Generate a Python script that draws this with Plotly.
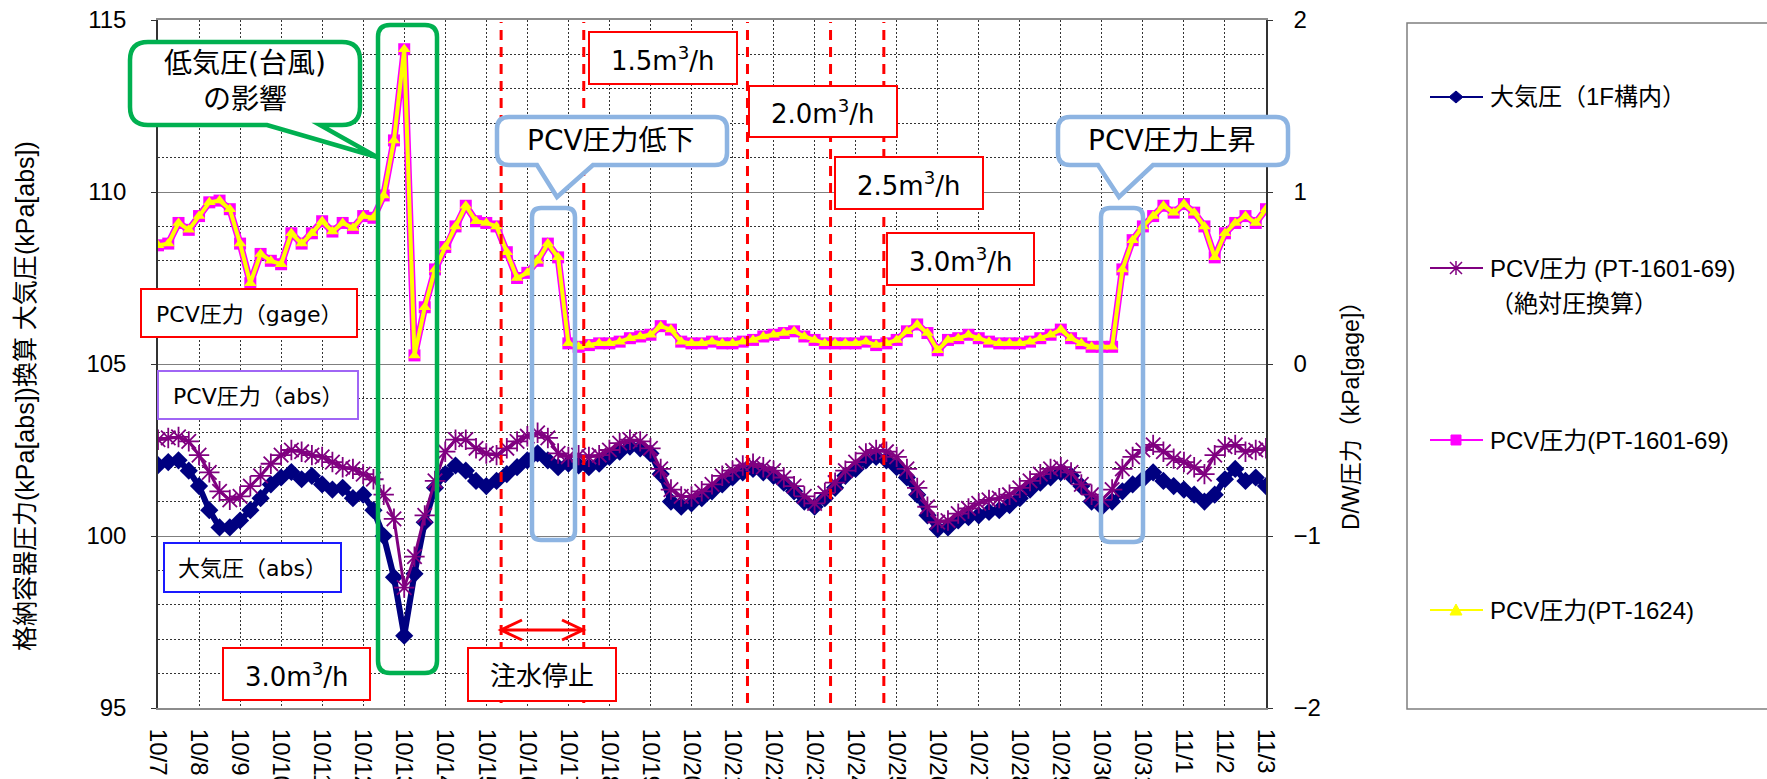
import pandas as pd
import plotly.graph_objects as go

# ---------------- data (6-hourly readings, 10/7 00:00 -> 11/3 00:00) ----------------
start_time = "2014-10-07 00:00"
end_time = "2014-11-03 00:00"
times = pd.date_range(start_time, end_time, freq="6h")

# 大気圧（1F構内）  [kPa abs]
atm_kpa = [
    102.06, 102.15, 102.2, 101.9,
    101.45, 100.75, 100.25, 100.25,
    100.45, 100.75, 101.1, 101.5,
    101.7, 101.86, 101.65, 101.75,
    101.5, 101.35, 101.4, 101.1,
    101.2, 100.75, 100.0, 98.8,
    97.1, 98.9, 100.4, 101.4,
    101.8, 102.05, 101.9, 101.6,
    101.45, 101.6, 101.8, 102.0,
    102.2, 102.4, 102.2, 102.0,
    102.1, 102.05, 102.0, 102.1,
    102.3, 102.45, 102.6, 102.55,
    102.4, 101.8, 101.0, 100.85,
    100.95, 101.1, 101.3, 101.5,
    101.7, 101.85, 101.95, 101.85,
    101.75, 101.55, 101.3, 101.0,
    100.85, 101.1, 101.4, 101.75,
    101.95, 102.2, 102.3, 102.2,
    102.0, 101.7, 101.2, 100.6,
    100.2, 100.25, 100.45, 100.55,
    100.6, 100.7, 100.75, 100.9,
    101.1, 101.35, 101.55, 101.7,
    101.85, 101.75, 101.45, 101.0,
    100.85, 101.0, 101.3, 101.5,
    101.65, 101.85, 101.6, 101.45,
    101.35, 101.2, 101.0, 101.2,
    101.65, 101.95, 101.6, 101.7,
    101.45,
]

# PCV圧力 (PT-1601-69)（絶対圧換算） [kPa abs]
pcv_abs_kpa = [
    102.8, 102.85, 102.88, 102.75,
    102.35, 101.85, 101.3, 101.05,
    101.15, 101.45, 101.75, 102.1,
    102.35, 102.5, 102.45, 102.35,
    102.3, 102.15, 102.0, 101.95,
    101.8, 101.65, 101.2, 100.5,
    98.5, 99.4, 100.6, 101.6,
    102.45, 102.8, 102.8, 102.55,
    102.4, 102.35, 102.55, 102.75,
    102.9, 103.0, 102.85, 102.4,
    102.3, 102.35, 102.3, 102.35,
    102.5, 102.7, 102.8, 102.75,
    102.55, 101.95, 101.35, 101.15,
    101.15, 101.3, 101.5, 101.75,
    101.9, 102.05, 102.1, 102.0,
    101.9, 101.7, 101.45, 101.15,
    100.95, 101.25, 101.55, 101.9,
    102.15, 102.4, 102.5, 102.45,
    102.3, 101.95, 101.4, 100.85,
    100.4, 100.45, 100.65, 100.8,
    100.95, 101.05, 101.1, 101.2,
    101.4, 101.6, 101.8, 101.95,
    102.0, 101.85, 101.5, 101.2,
    101.05, 101.35, 101.95, 102.3,
    102.5, 102.65, 102.45, 102.25,
    102.15, 102.0, 101.8, 102.35,
    102.6, 102.65, 102.45, 102.5,
    102.55,
]

# PCV圧力(PT-1601-69)  [kPa gage]
pcv_gage_1601 = [
    0.69, 0.7, 0.82, 0.78,
    0.86, 0.94, 0.95, 0.9,
    0.7, 0.47, 0.64, 0.6,
    0.58, 0.76, 0.7, 0.76,
    0.83, 0.77, 0.82, 0.79,
    0.86, 0.85, 0.98, 1.3,
    1.83, 0.05, 0.33, 0.55,
    0.68, 0.8, 0.92, 0.83,
    0.82, 0.8, 0.65, 0.5,
    0.53, 0.6, 0.7, 0.62,
    0.12, 0.1, 0.11, 0.12,
    0.12, 0.13, 0.15, 0.16,
    0.17, 0.22, 0.2, 0.13,
    0.12, 0.12, 0.13, 0.12,
    0.12, 0.13, 0.14, 0.16,
    0.17, 0.18, 0.19, 0.16,
    0.14, 0.12, 0.12, 0.12,
    0.12, 0.13, 0.11, 0.12,
    0.14, 0.19, 0.23, 0.18,
    0.08, 0.14, 0.15, 0.17,
    0.15, 0.13, 0.12, 0.12,
    0.12, 0.13, 0.15, 0.17,
    0.2, 0.15, 0.12, 0.1,
    0.1, 0.1, 0.55, 0.72,
    0.8, 0.86, 0.92, 0.88,
    0.93, 0.88, 0.8, 0.62,
    0.76, 0.82, 0.86, 0.82,
    0.9,
]

# PCV圧力(PT-1624)  [kPa gage] (coincides with PT-1601-69 at this resolution)
pcv_gage_1624 = [
    0.69, 0.7, 0.82, 0.78,
    0.86, 0.94, 0.95, 0.9,
    0.7, 0.47, 0.64, 0.6,
    0.58, 0.76, 0.7, 0.76,
    0.83, 0.77, 0.82, 0.79,
    0.86, 0.85, 0.98, 1.3,
    1.83, 0.05, 0.33, 0.55,
    0.68, 0.8, 0.92, 0.83,
    0.82, 0.8, 0.65, 0.5,
    0.53, 0.6, 0.7, 0.62,
    0.12, 0.1, 0.11, 0.12,
    0.12, 0.13, 0.15, 0.16,
    0.17, 0.22, 0.2, 0.13,
    0.12, 0.12, 0.13, 0.12,
    0.12, 0.13, 0.14, 0.16,
    0.17, 0.18, 0.19, 0.16,
    0.14, 0.12, 0.12, 0.12,
    0.12, 0.13, 0.11, 0.12,
    0.14, 0.19, 0.23, 0.18,
    0.08, 0.14, 0.15, 0.17,
    0.15, 0.13, 0.12, 0.12,
    0.12, 0.13, 0.15, 0.17,
    0.2, 0.15, 0.12, 0.1,
    0.1, 0.1, 0.55, 0.72,
    0.8, 0.86, 0.92, 0.88,
    0.93, 0.88, 0.8, 0.62,
    0.76, 0.82, 0.86, 0.82,
    0.9,
]

# injection-rate change times (red dashed lines)
event_times = ["2014-10-15 08:40", "2014-10-17 09:00", "2014-10-21 08:45",
               "2014-10-23 09:20", "2014-10-24 16:30"]

tick_labels = ["10/7", "10/8", "10/9", "10/10", "10/11", "10/12", "10/13", "10/14",
               "10/15", "10/16", "10/17", "10/18", "10/19", "10/20", "10/21", "10/22",
               "10/23", "10/24", "10/25", "10/26", "10/27", "10/28", "10/29", "10/30",
               "10/31", "11/1", "11/2", "11/3"]
tick_dates = pd.date_range("2014-10-07", "2014-11-03", freq="D")

series_names = ["大気圧（1F構内）", "PCV圧力 (PT-1601-69)", "PCV圧力(PT-1601-69)", "PCV圧力(PT-1624)"]

# ---------------- layout helpers ----------------
FIG_W, FIG_H = 1767, 779
ML, MR, MT, MB = 158, 501, 20, 71
PW = FIG_W - ML - MR
PH = FIG_H - MT - MB


def px(x):
    return (x - ML) / PW


def py(y):
    return (FIG_H - MB - y) / PH


def P(x, y):
    return f"{px(x):.5f},{py(y):.5f}"


TICK_FONT = "Liberation Sans, Arial, Noto Sans CJK JP, sans-serif"
BOX_FONT = "DejaVu Sans, Verdana, Noto Sans CJK JP, sans-serif"
JP_FONT = "Liberation Sans, Arial, Noto Sans CJK JP, sans-serif"

RED = "#FF0000"
GREEN = "#00B050"
LBLUE = "#8DB4E2"

shapes = []
annotations = []


def rounded_path(x0, y0, x1, y1, r, pointer=None):
    s = f"M {P(x0 + r, y0)} L {P(x1 - r, y0)} Q {P(x1, y0)} {P(x1, y0 + r)} "
    s += f"L {P(x1, y1 - r)} Q {P(x1, y1)} {P(x1 - r, y1)} "
    if pointer:
        b_right, b_left, tx, ty = pointer
        s += f"L {P(b_right, y1)} L {P(tx, ty)} L {P(b_left, y1)} "
    s += f"L {P(x0 + r, y1)} Q {P(x0, y1)} {P(x0, y1 - r)} L {P(x0, y0 + r)} Q {P(x0, y0)} {P(x0 + r, y0)} Z"
    return s


def add_path(path, color, width, fill="rgba(0,0,0,0)"):
    shapes.append(dict(type="path", xref="paper", yref="paper", path=path,
                       line=dict(color=color, width=width), fillcolor=fill, layer="above"))


def add_text(x, y, text, size, family=BOX_FONT, xanchor="center", angle=0, align="center"):
    annotations.append(dict(xref="paper", yref="paper", x=px(x), y=py(y), text=text,
                            showarrow=False, xanchor=xanchor, yanchor="middle", align=align,
                            textangle=angle, font=dict(size=size, family=family, color="black")))


# red dashed lines at event times
for t in event_times:
    shapes.append(dict(type="line", xref="x", yref="paper", x0=t, x1=t, y0=py(703), y1=py(22),
                       line=dict(color=RED, width=3, dash="10px,7px"), layer="above"))

# double arrow (注水停止 period)
ay = 630
shapes.append(dict(type="line", xref="x", yref="paper", x0=event_times[0], x1=event_times[1],
                   y0=py(ay), y1=py(ay), line=dict(color=RED, width=3), layer="above"))
xl, xr = px(501), px(583)
dxh, dyh = 21 / PW, 10 / PH
shapes.append(dict(type="path", xref="paper", yref="paper",
                   path=f"M {xl + dxh:.5f},{py(ay) + dyh:.5f} L {xl:.5f},{py(ay):.5f} L {xl + dxh:.5f},{py(ay) - dyh:.5f}",
                   line=dict(color=RED, width=3), layer="above"))
shapes.append(dict(type="path", xref="paper", yref="paper",
                   path=f"M {xr - dxh:.5f},{py(ay) + dyh:.5f} L {xr:.5f},{py(ay):.5f} L {xr - dxh:.5f},{py(ay) - dyh:.5f}",
                   line=dict(color=RED, width=3), layer="above"))

# highlight frames
add_path(rounded_path(378, 25, 437, 673, 12), GREEN, 4.5)
add_path(rounded_path(532, 208, 575, 540, 9), LBLUE, 4.5)
add_path(rounded_path(1101, 208, 1143, 542, 9), LBLUE, 4.5)

# callouts
add_path(rounded_path(130, 42, 360, 125, 18, pointer=(320, 267, 377, 157)), GREEN, 4.5, "white")
add_text(245, 81, "低気圧(台風)<br>の影響", 28)
add_path(rounded_path(497, 117, 727, 165, 12, pointer=(593, 537, 557, 197)), LBLUE, 4.5, "white")
add_text(611, 140, "PCV圧力低下", 28)
add_path(rounded_path(1058, 117, 1288, 165, 12, pointer=(1153, 1098, 1119, 197)), LBLUE, 4.5, "white")
add_text(1172, 140, "PCV圧力上昇", 28)

# labelled boxes
boxes = [
    (589, 32, 737, 84, "1.5m<sup>3</sup>/h", 26, RED),
    (749, 86, 897, 137, "2.0m<sup>3</sup>/h", 26, RED),
    (835, 157, 983, 209, "2.5m<sup>3</sup>/h", 26, RED),
    (887, 233, 1034, 285, "3.0m<sup>3</sup>/h", 26, RED),
    (223, 648, 370, 700, "3.0m<sup>3</sup>/h", 26, RED),
    (468, 648, 616, 701, "注水停止", 26, RED),
    (141, 289, 357, 337, "PCV圧力（gage）", 22, RED),
    (158, 371, 358, 419, "PCV圧力（abs）", 22, "#A066F5"),
    (164, 543, 341, 592, "大気圧（abs）", 22, "#1A1AFF"),
]
for x0, y0, x1, y1, txt, fs, col in boxes:
    shapes.append(dict(type="rect", xref="paper", yref="paper", x0=px(x0), x1=px(x1),
                       y0=py(y1), y1=py(y0), line=dict(color=col, width=2),
                       fillcolor="white", layer="above"))
    add_text((x0 + x1) / 2, (y0 + y1) / 2 + 1, txt, fs)

# axis titles
add_text(25, 396, "格納容器圧力(kPa[abs])換算 大気圧(kPa[abs])", 25, family=JP_FONT, angle=-90)
add_text(1351, 410, "D/W圧力（kPa[gage]）", 23, family=JP_FONT, angle=-90)

# legend (drawn manually)
shapes.append(dict(type="rect", xref="paper", yref="paper", x0=px(1407), x1=px(1800),
                   y0=py(709), y1=py(23), line=dict(color="#7F7F7F", width=1.5),
                   fillcolor="rgba(0,0,0,0)", layer="above"))
leg_colors = ["#000080", "#800080", "#FF00FF", "#FFFF00"]
leg_y = [97, 268, 440, 610]
mx = 1456
for col, yy in zip(leg_colors, leg_y):
    shapes.append(dict(type="line", xref="paper", yref="paper", x0=px(1430), x1=px(1483),
                       y0=py(yy), y1=py(yy), line=dict(color=col, width=2), layer="above"))
# legend markers
add_path(f"M {P(mx - 7, 97)} L {P(mx, 91)} L {P(mx + 7, 97)} L {P(mx, 103)} Z", "#000080", 1, "#000080")
add_path(f"M {P(mx - 6, 262)} L {P(mx + 6, 274)} M {P(mx - 6, 274)} L {P(mx + 6, 262)} M {P(mx, 261)} L {P(mx, 275)}",
         "#800080", 1.5)
add_path(f"M {P(mx - 5, 435)} L {P(mx + 5, 435)} L {P(mx + 5, 445)} L {P(mx - 5, 445)} Z", "#FF00FF", 1, "#FF00FF")
add_path(f"M {P(mx - 6, 615)} L {P(mx, 604)} L {P(mx + 6, 615)} Z", "#FFFF00", 1, "#FFFF00")

add_text(1488, 97, series_names[0], 24, family=JP_FONT, xanchor="left")
add_text(1488, 268, series_names[1], 24, family=JP_FONT, xanchor="left")
add_text(1488, 304, "（絶対圧換算）", 24, family=JP_FONT, xanchor="left")
add_text(1488, 440, series_names[2], 24, family=JP_FONT, xanchor="left")
add_text(1488, 610, series_names[3], 24, family=JP_FONT, xanchor="left")

# ---------------- traces ----------------
fig = go.Figure()
fig.add_trace(go.Scatter(x=times, y=atm_kpa, name=series_names[0], mode="lines+markers",
                         line=dict(color="#000080", width=6),
                         marker=dict(symbol="diamond", size=14, color="#000080"), yaxis="y"))
fig.add_trace(go.Scatter(x=times, y=pcv_abs_kpa, name=series_names[1], mode="lines+markers",
                         line=dict(color="#800080", width=3),
                         marker=dict(symbol="asterisk-open", size=17, color="#800080",
                                     line=dict(color="#800080", width=1.8)), yaxis="y"))
fig.add_trace(go.Scatter(x=times, y=pcv_gage_1601, name=series_names[2], mode="lines+markers",
                         line=dict(color="#FF00FF", width=7),
                         marker=dict(symbol="square", size=12, color="#FF00FF"), yaxis="y2"))
fig.add_trace(go.Scatter(x=times, y=pcv_gage_1624, name=series_names[3], mode="lines+markers",
                         line=dict(color="#FFFF00", width=4),
                         marker=dict(symbol="triangle-up", size=11, color="#FFFF00"), yaxis="y2"))

fig.update_layout(
    width=FIG_W, height=FIG_H,
    margin=dict(l=ML, r=MR, t=MT, b=MB, pad=0, autoexpand=False),
    paper_bgcolor="white", plot_bgcolor="white",
    showlegend=False,
    shapes=shapes, annotations=annotations,
    xaxis=dict(type="date", range=[start_time, end_time], automargin=False,
               tickvals=list(tick_dates), ticktext=tick_labels, tickangle=90,
               tickfont=dict(size=24, family=TICK_FONT, color="black"),
               ticklabelstandoff=14,
               showgrid=True, gridcolor="#333333", griddash="2px,2px", gridwidth=1,
               showline=True, linecolor="#8C8C8C", linewidth=2, mirror=True,
               ticks="", zeroline=False),
    yaxis=dict(range=[95, 115], tickvals=[95, 100, 105, 110, 115], automargin=False,
               tickfont=dict(size=24, family=TICK_FONT, color="black"),
               ticks="outside", ticklen=5, tickcolor="#333333", ticklabelstandoff=20,
               showgrid=True, gridcolor="#7F7F7F", gridwidth=1.3,
               minor=dict(dtick=1, showgrid=True, gridcolor="#333333", griddash="2px,2px", gridwidth=1),
               showline=True, linecolor="#333333", linewidth=1.5, zeroline=False),
    yaxis2=dict(range=[-2, 2], tickvals=[-2, -1, 0, 1, 2], overlaying="y", side="right",
                automargin=False,
                tickfont=dict(size=24, family=TICK_FONT, color="black"),
                ticks="outside", ticklen=5, tickcolor="#333333", ticklabelstandoff=16,
                showgrid=False, showline=True, linecolor="#333333", linewidth=1.5, zeroline=False),
)

fig.write_html("out.html", config={"displayModeBar": False},
               post_script="document.body.style.margin='0';document.body.style.overflow='hidden';")
